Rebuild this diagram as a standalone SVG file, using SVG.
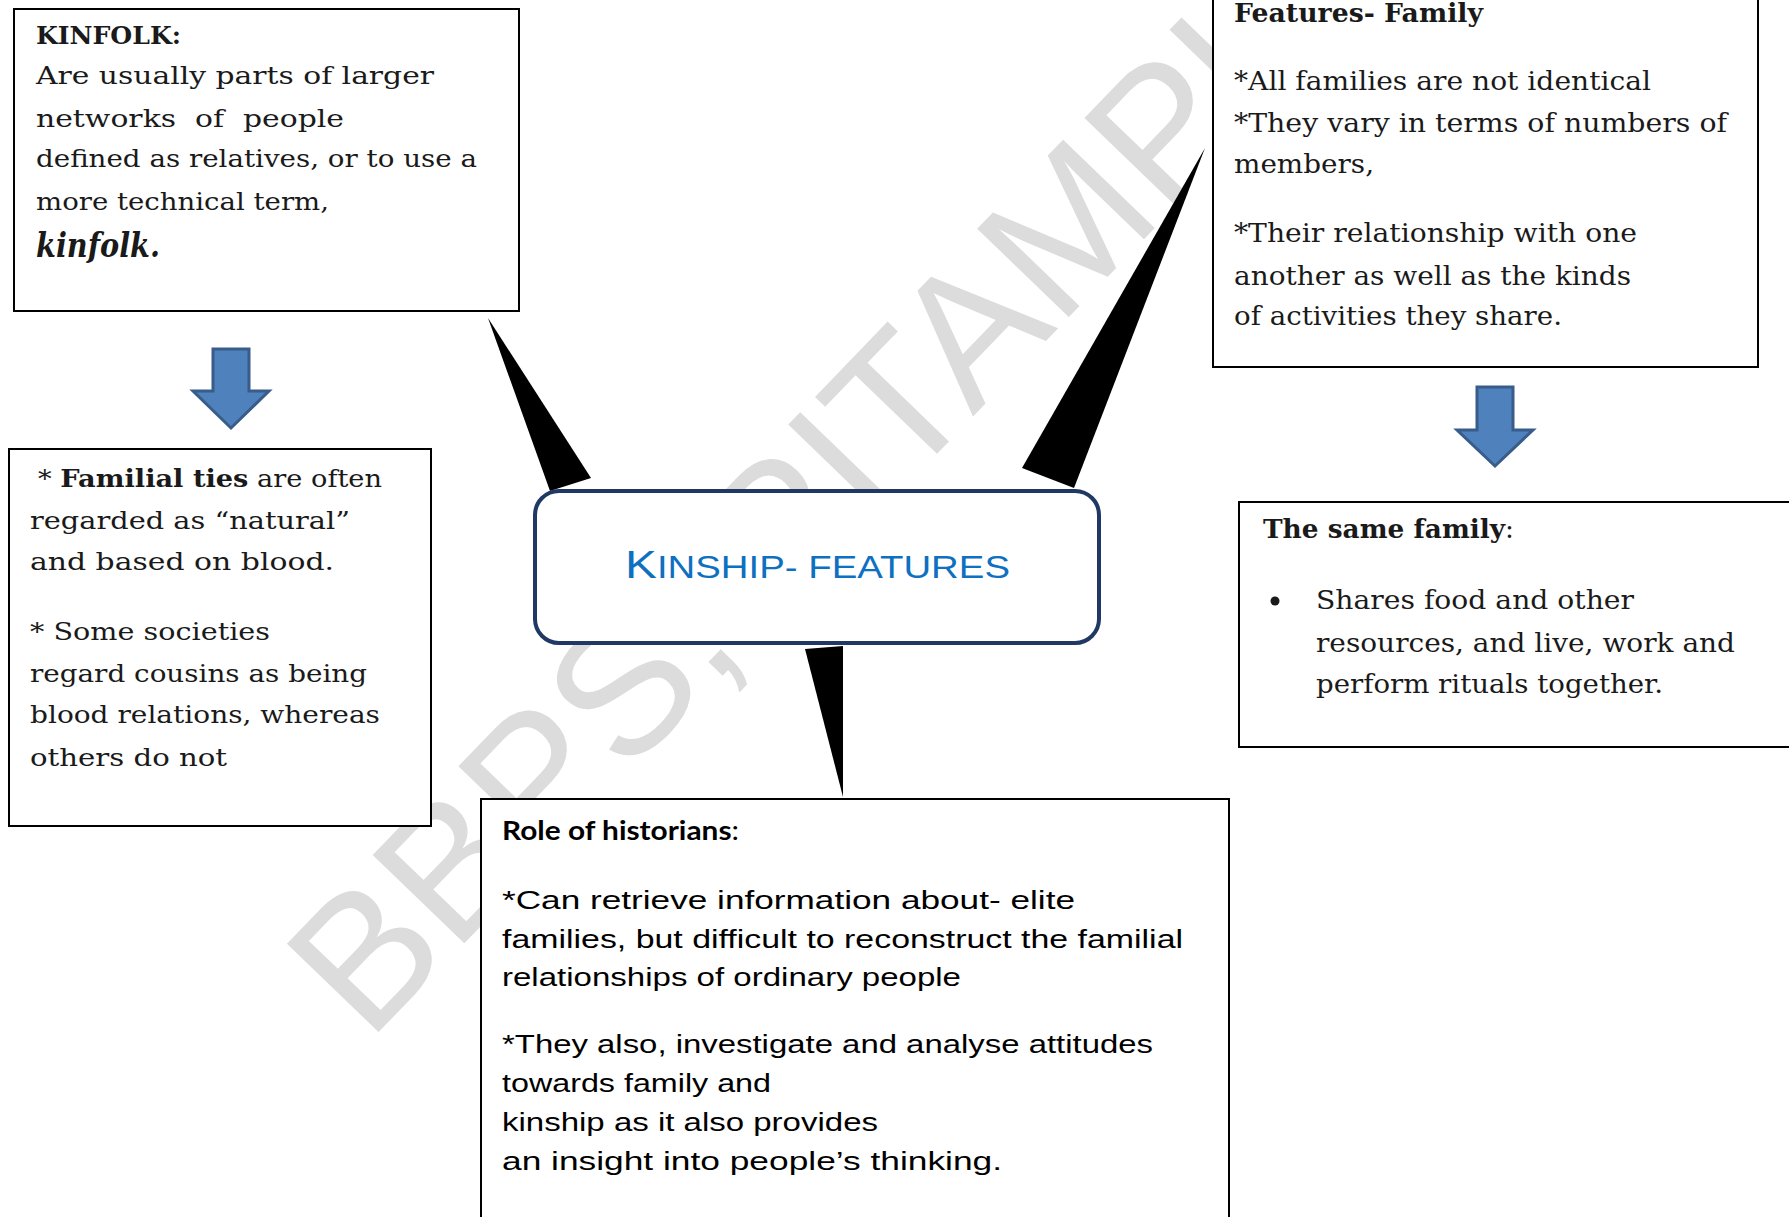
<svg xmlns="http://www.w3.org/2000/svg" width="1789" height="1217" viewBox="0 0 1789 1217">
<style>
.bg{fill:#ffffff}
.wm{font-family:"Liberation Sans",Arial,sans-serif;font-size:185px;fill:#DCDCDC}
.box{fill:#ffffff;stroke:#000000;stroke-width:2}
.hub{fill:#ffffff;stroke:#1F3864;stroke-width:4}
.wedge{fill:#000000}
.arrow{fill:#4F81BD;stroke:#385D8A;stroke-width:3;stroke-linejoin:miter}
.sl{font-family:"DejaVu Serif","Liberation Serif",serif;font-size:24.5px;fill:#1a1a1a}
.sr{font-family:"DejaVu Serif","Liberation Serif",serif;font-size:26px;fill:#1a1a1a}
.b{font-weight:bold}
.it{font-style:italic;font-weight:bold;font-size:33px}
.sans{font-family:"Liberation Sans",Arial,sans-serif;font-size:25.5px;fill:#000000}
.cal{font-family:Lato,"Open Sans",sans-serif;font-size:26px;fill:#000000}
.hubt{font-family:"Liberation Sans",Arial,sans-serif;fill:#0E70C0}
</style>
<rect class="bg" x="0" y="0" width="1789" height="1217"/>
<text class="wm" transform="translate(368,1043) rotate(-46)">BBPS, PITAMPURA</text>
<g id="connectors">
  <polygon class="wedge" points="488,318 550,491 591,478"/>
  <polygon class="wedge" points="1205,148 1022,468 1074,488"/>
  <polygon class="wedge" points="805,649 843,646 843,797"/>
  <polygon class="arrow" points="213,349 249,349 249,391 269,391 231,428 193,391 213,391"/>
  <polygon class="arrow" points="1477,387 1513,387 1513,430 1533,430 1495,466 1457,430 1477,430"/>
</g>
<g id="kinfolk">
  <rect class="box" x="14" y="9" width="505" height="302"/>
  <text class="sl b" x="36" y="44" textLength="145" lengthAdjust="spacingAndGlyphs">KINFOLK:</text>
  <text class="sl" x="36" y="84" textLength="398" lengthAdjust="spacingAndGlyphs">Are usually parts of larger</text>
  <text class="sl" x="36" y="127" textLength="308" lengthAdjust="spacingAndGlyphs" style="white-space:pre">networks  of  people</text>
  <text class="sl" x="36" y="167" textLength="441" lengthAdjust="spacingAndGlyphs">defined as relatives, or to use a</text>
  <text class="sl" x="36" y="210" textLength="293" lengthAdjust="spacingAndGlyphs">more technical term,</text>
  <text class="sl it" x="36" y="257" textLength="124" lengthAdjust="spacingAndGlyphs">kinfolk.</text>
</g>
<g id="familial">
  <rect class="box" x="9" y="449" width="422" height="377"/>
  <text class="sl" x="38" y="487" textLength="344" lengthAdjust="spacingAndGlyphs">* <tspan class="b">Familial ties</tspan> are often</text>
  <text class="sl" x="30" y="529" textLength="320" lengthAdjust="spacingAndGlyphs">regarded as “natural”</text>
  <text class="sl" x="30" y="570" textLength="304" lengthAdjust="spacingAndGlyphs">and based on blood.</text>
  <text class="sl" x="30" y="640" textLength="240" lengthAdjust="spacingAndGlyphs">* Some societies</text>
  <text class="sl" x="30" y="682" textLength="337" lengthAdjust="spacingAndGlyphs">regard cousins as being</text>
  <text class="sl" x="30" y="723" textLength="350" lengthAdjust="spacingAndGlyphs">blood relations, whereas</text>
  <text class="sl" x="30" y="766" textLength="197" lengthAdjust="spacingAndGlyphs">others do not</text>
</g>
<g id="features-family">
  <rect class="box" x="1213" y="-10" width="545" height="377"/>
  <text class="sr b" x="1234" y="22" textLength="249" lengthAdjust="spacingAndGlyphs">Features- Family</text>
  <text class="sr" x="1234" y="90" textLength="417" lengthAdjust="spacingAndGlyphs">*All families are not identical</text>
  <text class="sr" x="1234" y="132" textLength="493" lengthAdjust="spacingAndGlyphs">*They vary in terms of numbers of</text>
  <text class="sr" x="1234" y="173" textLength="140" lengthAdjust="spacingAndGlyphs">members,</text>
  <text class="sr" x="1234" y="242" textLength="403" lengthAdjust="spacingAndGlyphs">*Their relationship with one</text>
  <text class="sr" x="1234" y="285" textLength="397" lengthAdjust="spacingAndGlyphs">another as well as the kinds</text>
  <text class="sr" x="1234" y="325" textLength="328" lengthAdjust="spacingAndGlyphs">of activities they share.</text>
</g>
<g id="same-family">
  <rect class="box" x="1239" y="502" width="560" height="245"/>
  <text class="sr" x="1263" y="538" textLength="251" lengthAdjust="spacingAndGlyphs"><tspan class="b">The same family</tspan>:</text>
  <circle cx="1275" cy="601" r="4.5" fill="#1a1a1a"/>
  <text class="sr" x="1316" y="609" textLength="318" lengthAdjust="spacingAndGlyphs">Shares food and other</text>
  <text class="sr" x="1316" y="652" textLength="419" lengthAdjust="spacingAndGlyphs">resources, and live, work and</text>
  <text class="sr" x="1316" y="693" textLength="347" lengthAdjust="spacingAndGlyphs">perform rituals together.</text>
</g>
<g id="historians">
  <rect class="box" x="481" y="799" width="748" height="430"/>
  <text class="cal" x="502" y="840" textLength="237" lengthAdjust="spacingAndGlyphs"><tspan font-weight="bold">Role of historians</tspan>:</text>
  <text class="sans" x="502" y="909" textLength="573" lengthAdjust="spacingAndGlyphs">*Can retrieve information about- elite</text>
  <text class="sans" x="502" y="948" textLength="681" lengthAdjust="spacingAndGlyphs">families, but difficult to reconstruct the familial</text>
  <text class="sans" x="502" y="986" textLength="459" lengthAdjust="spacingAndGlyphs">relationships of ordinary people</text>
  <text class="sans" x="502" y="1053" textLength="651" lengthAdjust="spacingAndGlyphs">*They also, investigate and analyse attitudes</text>
  <text class="sans" x="502" y="1092" textLength="269" lengthAdjust="spacingAndGlyphs">towards family and</text>
  <text class="sans" x="502" y="1131" textLength="376" lengthAdjust="spacingAndGlyphs">kinship as it also provides</text>
  <text class="sans" x="502" y="1170" textLength="500" lengthAdjust="spacingAndGlyphs">an insight into people’s thinking.</text>
</g>
<g id="hub">
  <rect class="hub" x="535" y="491" width="564" height="152" rx="24" ry="24"/>
  <text class="hubt" x="625" y="578" textLength="385" lengthAdjust="spacingAndGlyphs"><tspan font-size="38px">K</tspan><tspan font-size="30.5px">INSHIP- FEATURES</tspan></text>
</g>
</svg>
